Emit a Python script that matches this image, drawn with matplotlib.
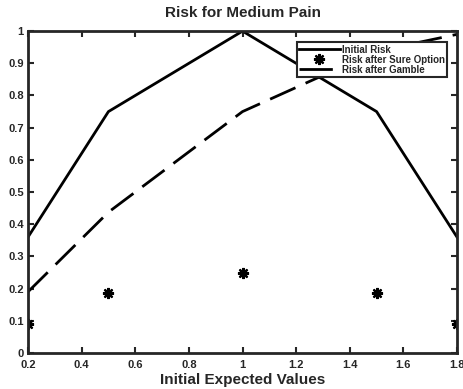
import matplotlib
matplotlib.use("Agg")
import matplotlib.pyplot as plt

plt.rcParams['font.family'] = ['Liberation Sans', 'DejaVu Sans']
plt.rcParams['font.weight'] = 'bold'

# values
ev = [0.2, 0.5, 1.0, 1.5, 1.8]
initial_risk = [0.36, 0.75, 1.0, 0.75, 0.36]
sure_risk = [0.09, 0.1875, 0.25, 0.1875, 0.09]
gamble_risk = [0.19, 0.4375, 0.75, 0.9375, 0.99]

xticks = [0.2, 0.4, 0.6, 0.8, 1.0, 1.2, 1.4, 1.6, 1.8]
xticklabels = ['0.2', '0.4', '0.6', '0.8', '1', '1.2', '1.4', '1.6', '1.8']
yticks = [0, 0.1, 0.2, 0.3, 0.4, 0.5, 0.6, 0.7, 0.8, 0.9, 1]
yticklabels = ['0', '0.1', '0.2', '0.3', '0.4', '0.5', '0.6', '0.7', '0.8', '0.9', '1']

fig = plt.figure(figsize=(4.64, 3.89), dpi=100)
ax = fig.add_axes([0.0603, 0.0925, 0.9247, 0.8275])

ax.plot(ev, initial_risk, color='black', lw=2, label='Initial Risk')
ax.plot(ev, sure_risk, ls='none', marker=(8, 2, 0), ms=8, mew=1.6,
        color='black', label='Risk after Sure Option')
ax.plot(ev, gamble_risk, color='black', lw=2, dashes=(10, 4),
        label='Risk after Gamble')

ax.set_xlim(0.2, 1.8)
ax.set_ylim(0, 1)
ax.set_xticks(xticks)
ax.set_xticklabels(xticklabels)
ax.set_yticks(yticks)
ax.set_yticklabels(yticklabels)
ax.tick_params(direction='in', top=True, right=True, length=4, width=1.5,
               labelsize=8, colors='#262626')
ax.tick_params(axis='x', pad=5)
ax.tick_params(axis='y', pad=3)
for s in ax.spines.values():
    s.set_linewidth(2)
    s.set_color('#262626')

ax.set_title('Risk for Medium Pain', fontsize=11, fontweight='bold',
             color='#262626', pad=10)
ax.set_xlabel('Initial Expected Values', fontsize=11, fontweight='bold',
              color='#262626', labelpad=2)

leg = ax.legend(loc='upper right', bbox_to_anchor=(0.977, 0.965), fontsize=7,
                frameon=True, fancybox=False, framealpha=1, handlelength=4.2,
                borderpad=0.25, labelspacing=0.0, handletextpad=0.2,
                borderaxespad=0)
leg.get_frame().set_edgecolor('#262626')
leg.get_frame().set_linewidth(1.5)
leg.get_lines()[2].set_dashes((12, 10))
for t in leg.get_texts():
    t.set_color('#262626')

fig.savefig('out.png', dpi=100)
